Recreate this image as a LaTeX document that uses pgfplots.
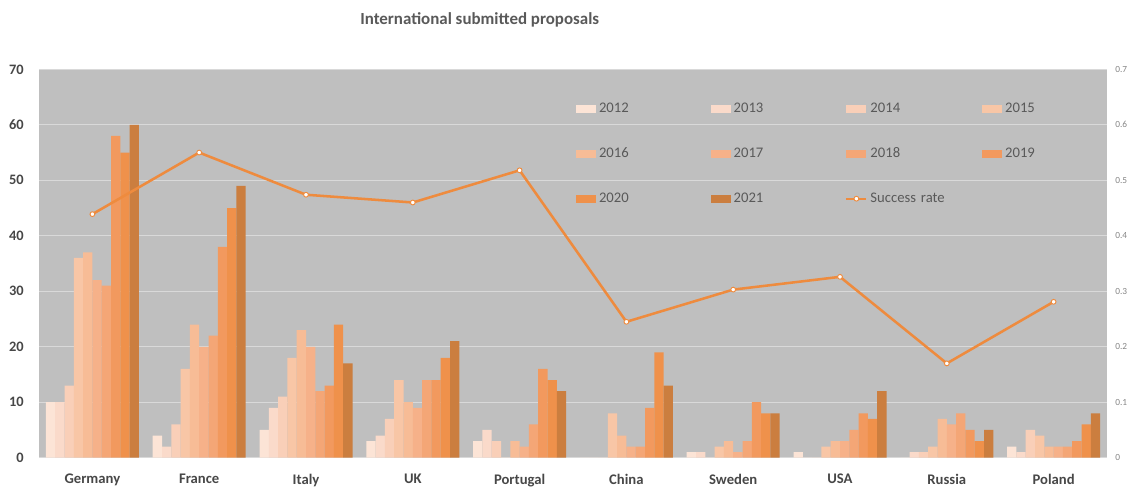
\documentclass[border=0pt]{standalone}
\usepackage{fontspec}
\setmainfont{Carlito}
\usepackage{pgfplots}
\usepackage{pgfplotstable}
\pgfplotsset{compat=1.18}

\definecolor{c2012}{HTML}{FCE4D6}
\definecolor{c2013}{HTML}{FADACA}
\definecolor{c2014}{HTML}{F9CFB8}
\definecolor{c2015}{HTML}{F8C6A6}
\definecolor{c2016}{HTML}{F7BC96}
\definecolor{c2017}{HTML}{F6B189}
\definecolor{c2018}{HTML}{F4A676}
\definecolor{c2019}{HTML}{F2995E}
\definecolor{c2020}{HTML}{EF914B}
\definecolor{c2021}{HTML}{CB7E3F}
\definecolor{lineor}{HTML}{EE8B3E}
\definecolor{bg}{HTML}{BFBFBF}
\definecolor{gridc}{HTML}{D9D9D9}
\definecolor{txt}{HTML}{595959}
\definecolor{cattxt}{HTML}{474747}
\definecolor{rtxt}{HTML}{858585}

\pgfplotstableread{
x y2012 y2013 y2014 y2015 y2016 y2017 y2018 y2019 y2020 y2021 rate
0 10 10 13 36 37 32 31 58 55 60 0.439
1 4 2 6 16 24 20 22 38 45 49 0.550
2 5 9 11 18 23 20 12 13 24 17 0.474
3 3 4 7 14 10 9 14 14 18 21 0.460
4 3 5 3 0 3 2 6 16 14 12 0.518
5 0 0 0 8 4 2 2 9 19 13 0.245
6 1 1 0 2 3 1 3 10 8 8 0.303
7 1 0 0 2 3 3 5 8 7 12 0.326
8 0 1 1 2 7 6 8 5 3 5 0.170
9 2 1 5 4 2 2 2 3 6 8 0.281
}\data

\pgfplotsset{
  base/.style={
    scale only axis, width=801pt, height=291.3pt,
    xmin=-0.5, xmax=9.5, enlargelimits=false,
    at={(29.25pt,22.7pt)}, anchor=south west,
    major tick length=0pt,
    axis line style={draw=none},
    /pgf/number format/assume math mode=true,
  }
}
\newcommand{\bt}[1]{\textbf{#1}}

\begin{document}
\begin{tikzpicture}
\useasboundingbox (0,0) rectangle (850.5pt,366pt);
\begin{axis}[base,
  ymin=0, ymax=70, ytick={0,10,20,30,40,50,60,70},
  yticklabels={\bt{0},\bt{10},\bt{20},\bt{30},\bt{40},\bt{50},\bt{60},\bt{70}},
  axis background/.style={fill=bg},
  ymajorgrids, grid style={gridc, line width=0.75pt},
  xtick={0,...,9},
  xticklabels={Germany,France,Italy,UK,Portugal,China,Sweden,USA,Russia,Poland},
  xticklabel style={font=\bfseries\fontsize{11}{13}\selectfont, text=cattxt, inner sep=0pt, anchor=north, yshift=-12pt},
  yticklabel style={font=\bfseries\fontsize{10.8}{12}\selectfont, text=cattxt, inner sep=0pt, anchor=east, xshift=-11.25pt},
  ybar=0pt, bar width=6.975pt,
  legend image code/.code={\fill[#1,draw=none] (0pt,-2.9pt) rectangle (15pt,2.9pt);},
  legend columns=4,
  legend style={
    at={(axis description cs:0.5028,0.915)}, anchor=north west,
    draw=none, fill=none, inner sep=0pt, outer sep=0pt,
    font=\fontsize{11}{12}\selectfont, text=txt,
    column sep=2.25pt, row sep=24.25pt,
    nodes={inner sep=0pt, text width=81.5pt, align=left, text height=7.5pt, text depth=2pt},
  },
]
\addplot[fill=c2012, draw=none] table[x=x, y=y2012] {\data}; \addlegendentry{2012}
\addplot[fill=c2013, draw=none] table[x=x, y=y2013] {\data}; \addlegendentry{2013}
\addplot[fill=c2014, draw=none] table[x=x, y=y2014] {\data}; \addlegendentry{2014}
\addplot[fill=c2015, draw=none] table[x=x, y=y2015] {\data}; \addlegendentry{2015}
\addplot[fill=c2016, draw=none] table[x=x, y=y2016] {\data}; \addlegendentry{2016}
\addplot[fill=c2017, draw=none] table[x=x, y=y2017] {\data}; \addlegendentry{2017}
\addplot[fill=c2018, draw=none] table[x=x, y=y2018] {\data}; \addlegendentry{2018}
\addplot[fill=c2019, draw=none] table[x=x, y=y2019] {\data}; \addlegendentry{2019}
\addplot[fill=c2020, draw=none] table[x=x, y=y2020] {\data}; \addlegendentry{2020}
\addplot[fill=c2021, draw=none] table[x=x, y=y2021] {\data}; \addlegendentry{2021}
\addlegendimage{legend image code/.code={\draw[lineor, line width=1.6pt] (0pt,0pt) -- (15pt,0pt); \draw[lineor, fill=white, line width=0.7pt] (7.5pt,0pt) circle (1.8pt);}}
\addlegendentry{Success rate}
\end{axis}
\begin{axis}[base,
  ymin=0, ymax=0.7, ytick={0,0.1,0.2,0.3,0.4,0.5,0.6,0.7},
  yticklabels={0,0.1,0.2,0.3,0.4,0.5,0.6,0.7},
  axis y line*=right, axis x line=none,
  xtick=\empty,
  yticklabel style={font=\fontsize{7}{8}\selectfont, text=rtxt, inner sep=0pt, anchor=west, xshift=6pt},
]
\addplot[lineor, line width=1.9pt, mark=*, mark size=1.8pt, mark options={fill=white, draw=lineor, line width=0.7pt}] table[x=x, y=rate] {\data};
\end{axis}
\node[font=\bfseries\fontsize{12.7}{15}\selectfont, text=txt, anchor=base] at (359.8pt,347.25pt) {International submitted proposals};
\end{tikzpicture}
\end{document}
